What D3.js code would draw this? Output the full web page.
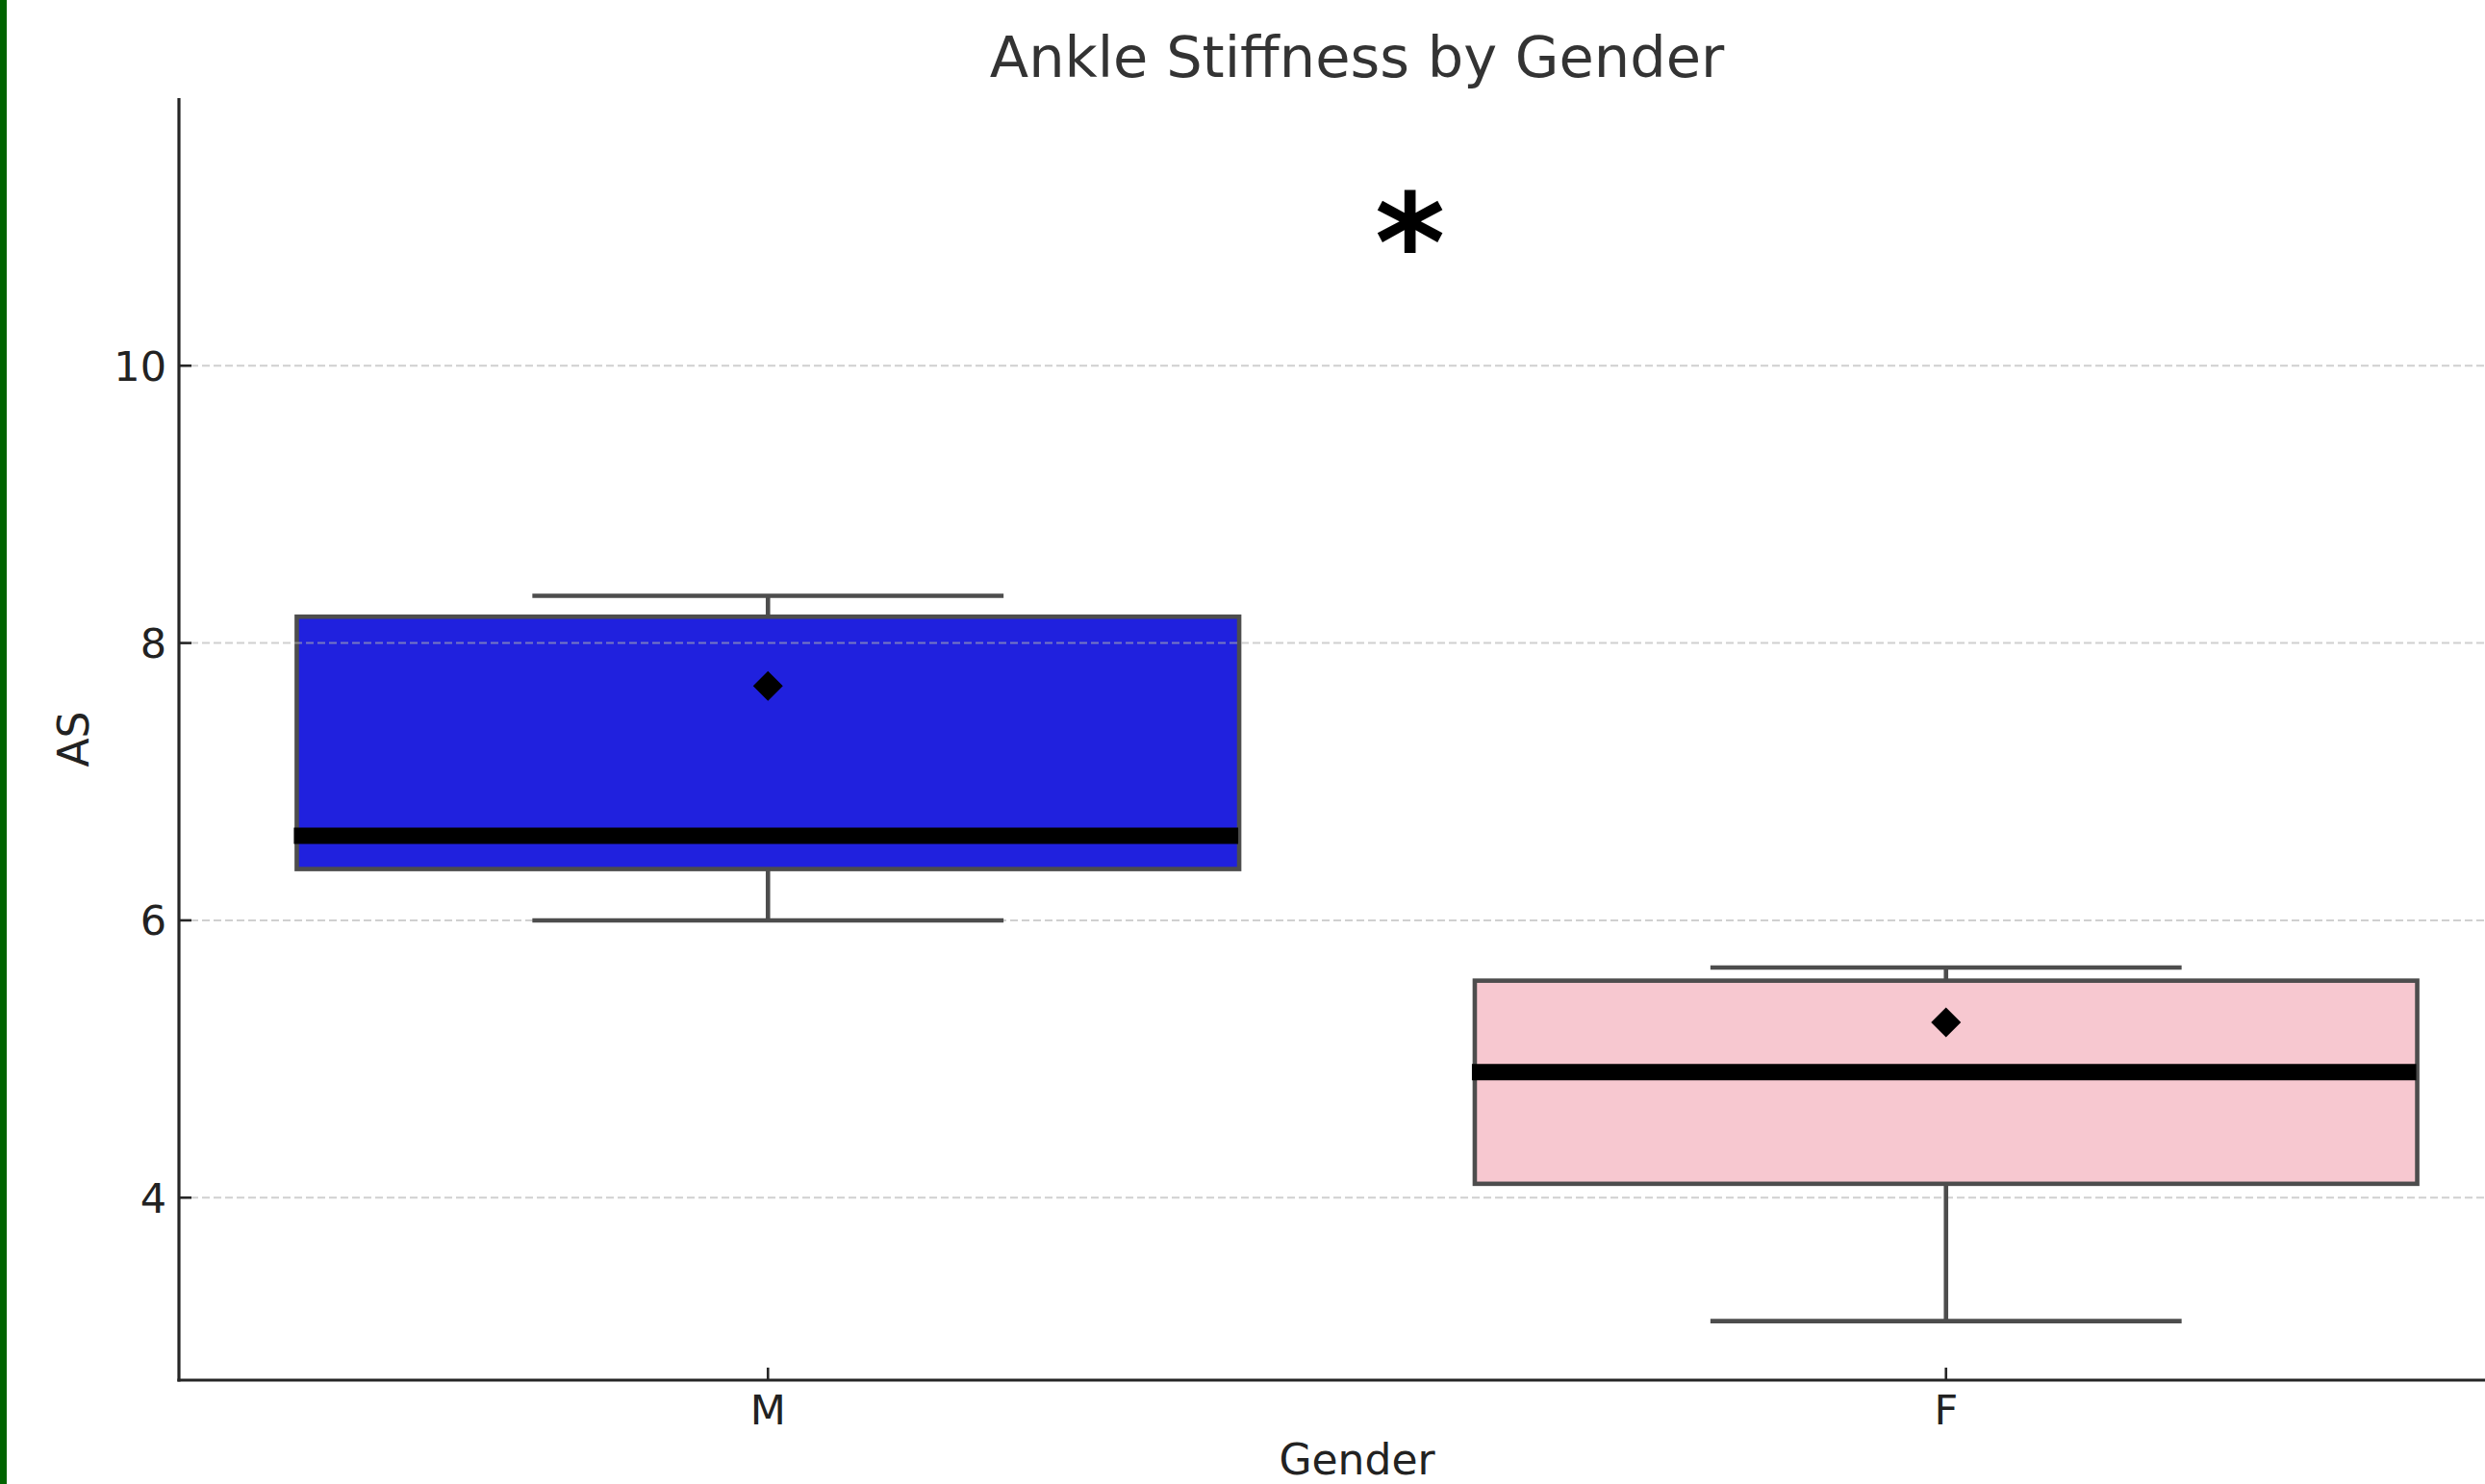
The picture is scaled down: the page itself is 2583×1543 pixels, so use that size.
<!DOCTYPE html>
<html>
<head>
<meta charset="utf-8">
<script src="https://cdn.jsdelivr.net/npm/d3@7"></script>
<style>
  html, body { margin: 0; padding: 0; background: #ffffff; }
  svg { display: block; }
  text { font-family: "DejaVu Sans", sans-serif; }
</style>
</head>
<body>
<script>
// ---- data ----
const categories = ["M", "F"];
const whiskerLow = [6.0, 3.11];
const q1 = [6.37, 4.10];
const medians = [6.61, 4.905];
const q3 = [8.19, 5.565];
const whiskerHigh = [8.34, 5.66];
const means = [7.69, 5.265];
const boxColors = ["#2021de", "#f7c8d0"];
const yTicks = [4, 6, 8, 10];
const yDomain = [2.684, 11.93];
const titleText = "Ankle Stiffness by Gender";
const xLabel = "Gender";
const yLabel = "AS";
const annotation = { text: "*", x: 0.545, y: 11.0 };

// ---- layout ----
const W = 2583, H = 1543;
const mLeft = 186, mRight = 2635, mTop = 102, mBottom = 1435;
const lineColor = "#4d4d4d";
const axisColor = "#262626";

const svg = d3.select("body").append("svg")
  .attr("width", W).attr("height", H);

svg.append("rect").attr("x", 0).attr("y", 0).attr("width", W).attr("height", H).attr("fill", "#fff");
// green left border
svg.append("rect").attr("x", 0).attr("y", 0).attr("width", 7).attr("height", H).attr("fill", "#006400");

const x = d3.scaleBand().domain(categories).range([mLeft, mRight]).padding(0);
const xLin = d3.scaleLinear().domain([-0.5, categories.length - 0.5]).range([mLeft, mRight]);
const y = d3.scaleLinear().domain(yDomain).range([mBottom, mTop]);

const rows = categories.map((c, i) => ({
  c, lo: whiskerLow[i], q1: q1[i], med: medians[i], q3: q3[i], hi: whiskerHigh[i], mean: means[i], color: boxColors[i]
}));
const bw = x.bandwidth() * 0.8;
const cx = d => x(d.c) + x.bandwidth() / 2;
const lw = 4.6;

// boxes (patches)
svg.append("g").selectAll("rect").data(rows).join("rect")
  .attr("x", d => cx(d) - bw / 2)
  .attr("y", d => y(d.q3))
  .attr("width", bw)
  .attr("height", d => y(d.q1) - y(d.q3))
  .attr("fill", d => d.color)
  .attr("stroke", lineColor)
  .attr("stroke-width", lw);

// gridlines (above patches, below lines)
svg.append("g").selectAll("line").data(yTicks).join("line")
  .attr("x1", mLeft).attr("x2", W)
  .attr("y1", d => y(d)).attr("y2", d => y(d))
  .attr("stroke", "#b0b0b0").attr("stroke-opacity", 0.6)
  .attr("stroke-width", 2)
  .attr("stroke-dasharray", "8,4");

// whiskers
const wg = svg.append("g").attr("stroke", lineColor).attr("stroke-width", lw).attr("fill", "none");
rows.forEach(d => {
  wg.append("line").attr("x1", cx(d)).attr("x2", cx(d)).attr("y1", y(d.q3)).attr("y2", y(d.hi));
  wg.append("line").attr("x1", cx(d)).attr("x2", cx(d)).attr("y1", y(d.q1)).attr("y2", y(d.lo));
  wg.append("line").attr("x1", cx(d) - bw / 4).attr("x2", cx(d) + bw / 4).attr("y1", y(d.hi)).attr("y2", y(d.hi));
  wg.append("line").attr("x1", cx(d) - bw / 4).attr("x2", cx(d) + bw / 4).attr("y1", y(d.lo)).attr("y2", y(d.lo));
});

// medians
svg.append("g").selectAll("line").data(rows).join("line")
  .attr("x1", d => cx(d) - bw / 2 - 3)
  .attr("x2", d => cx(d) + bw / 2 - 1)
  .attr("y1", d => y(d.med)).attr("y2", d => y(d.med))
  .attr("stroke", "#000").attr("stroke-width", 17);

// means (diamonds)
const r = 15.5;
svg.append("g").selectAll("path").data(rows).join("path")
  .attr("d", d => {
    const px = cx(d), py = y(d.mean);
    return `M${px},${py - r}L${px + r},${py}L${px},${py + r}L${px - r},${py}Z`;
  })
  .attr("fill", "#000");

// axes spines
svg.append("line").attr("x1", mLeft).attr("x2", mLeft).attr("y1", mTop).attr("y2", mBottom + 1.5)
  .attr("stroke", axisColor).attr("stroke-width", 3.2);
svg.append("line").attr("x1", mLeft - 1.6).attr("x2", W).attr("y1", mBottom).attr("y2", mBottom)
  .attr("stroke", axisColor).attr("stroke-width", 3.2);

// y ticks (inward)
const yt = svg.append("g");
yt.selectAll("line").data(yTicks).join("line")
  .attr("x1", mLeft).attr("x2", mLeft + 13)
  .attr("y1", d => y(d)).attr("y2", d => y(d))
  .attr("stroke", axisColor).attr("stroke-width", 2.6);
yt.selectAll("text").data(yTicks).join("text")
  .attr("x", mLeft - 13).attr("y", d => y(d))
  .attr("dy", "0.36em")
  .attr("text-anchor", "end")
  .attr("font-size", 43).attr("fill", "#222")
  .text(d => d3.format("d")(d));

// x ticks (inward)
const xt = svg.append("g");
xt.selectAll("line").data(categories).join("line")
  .attr("x1", d => x(d) + x.bandwidth() / 2).attr("x2", d => x(d) + x.bandwidth() / 2)
  .attr("y1", mBottom).attr("y2", mBottom - 13)
  .attr("stroke", axisColor).attr("stroke-width", 2.6);
xt.selectAll("text").data(categories).join("text")
  .attr("x", d => x(d) + x.bandwidth() / 2).attr("y", 1481)
  .attr("text-anchor", "middle")
  .attr("font-size", 43).attr("fill", "#222")
  .text(d => d);

// axis labels
svg.append("text").attr("x", (mLeft + mRight) / 2).attr("y", 1533)
  .attr("text-anchor", "middle").attr("font-size", 44).attr("fill", "#222")
  .text(xLabel);
svg.append("text")
  .attr("transform", `translate(92,${(mTop + mBottom) / 2}) rotate(-90)`)
  .attr("text-anchor", "middle").attr("font-size", 44).attr("fill", "#222")
  .text(yLabel);

// title
svg.append("text").attr("x", (mLeft + mRight) / 2).attr("y", 80)
  .attr("text-anchor", "middle").attr("font-size", 59).attr("fill", "#333")
  .text(titleText);

// significance annotation
svg.append("text")
  .attr("x", xLin(annotation.x)).attr("y", y(annotation.y))
  .attr("dy", "0.47em")
  .attr("text-anchor", "middle")
  .attr("font-size", 140).attr("font-weight", "bold").attr("fill", "#000")
  .text(annotation.text);
</script>
</body>
</html>
